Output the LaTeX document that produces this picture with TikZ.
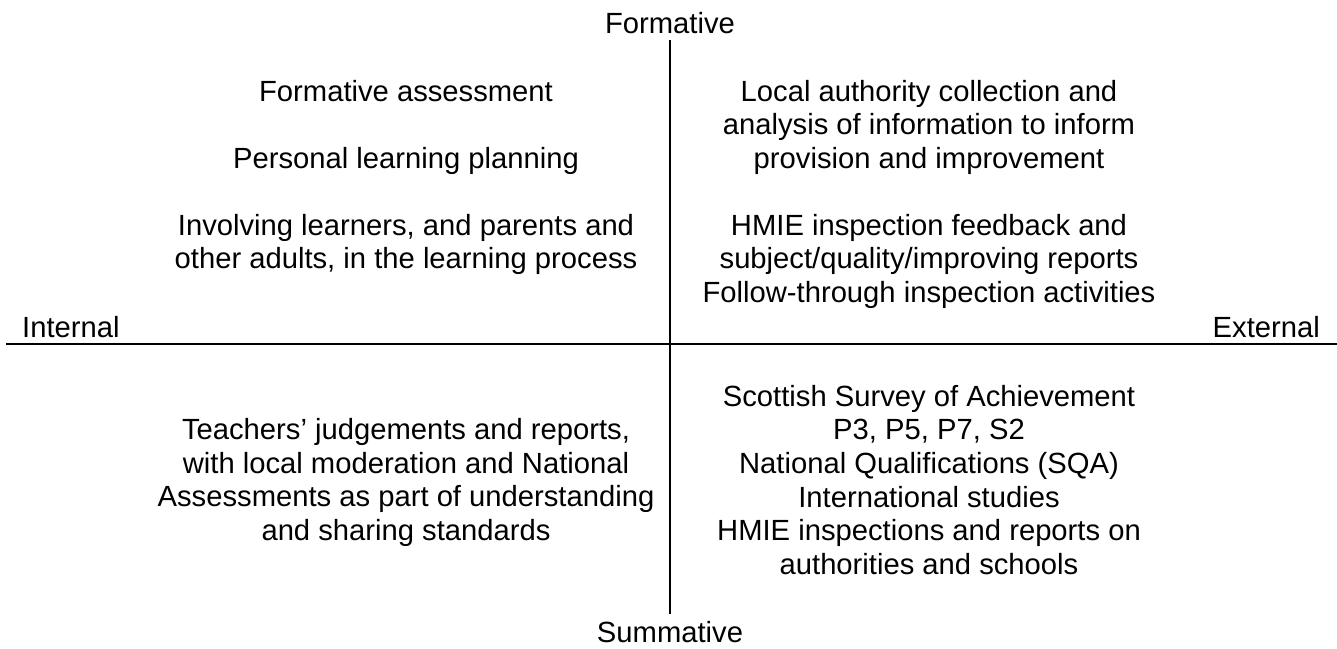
\documentclass[tikz,border=0pt]{standalone}
\usepackage{fontspec}
\setmainfont{Liberation Sans}
\begin{document}
\begin{tikzpicture}[x=1pt,y=-1pt,
  lbl/.style={inner sep=0pt,font=\fontsize{29.2}{33.7}\selectfont},
  % blocks are placed by the baseline of their last line
  block/.style={lbl,align=center,anchor=base},
  axis/.style={line width=2pt,black}]
\useasboundingbox (0,0) rectangle (1337,648);
% axes
\coordinate (top) at (670,40);
\coordinate (bottom) at (670,614);
\coordinate (left) at (6,344);
\coordinate (right) at (1337,344);
\draw[axis] (top) -- (bottom);
\draw[axis] (left) -- (right);
% axis labels
\node[lbl,anchor=base] (formative) at (670,33) {Formative};
\node[lbl,anchor=base] (summative) at (670,642) {Summative};
\node[lbl,anchor=base west] (internal) at (22,337) {Internal};
\node[lbl,anchor=base east] (external) at (1320,337) {External};
% internal, formative
\node[block] (fa) at (406,101) {Formative assessment};
\node[block] (plp) at (406,168) {Personal learning planning};
\node[block] (inv) at (406,268.7) {Involving learners, and parents and\\other adults, in the learning process};
% external, formative
\node[block] (la) at (929,168.4) {Local authority collection and\\analysis of information to inform\\provision and improvement};
\node[block] (hmie) at (929,302.4) {HMIE inspection feedback and\\subject/quality/improving reports\\Follow-through inspection activities};
% internal, summative
\node[block] (tj) at (406,540.6) {Teachers’ judgements and reports,\\with local moderation and National\\Assessments as part of understanding\\and sharing standards};
% external, summative
\node[block] (ssa) at (929,574.5) {Scottish Survey of Achievement\\P3, P5, P7, S2\\National Qualifications (SQA)\\International studies\\HMIE inspections and reports on\\authorities and schools};
\end{tikzpicture}
\end{document}
